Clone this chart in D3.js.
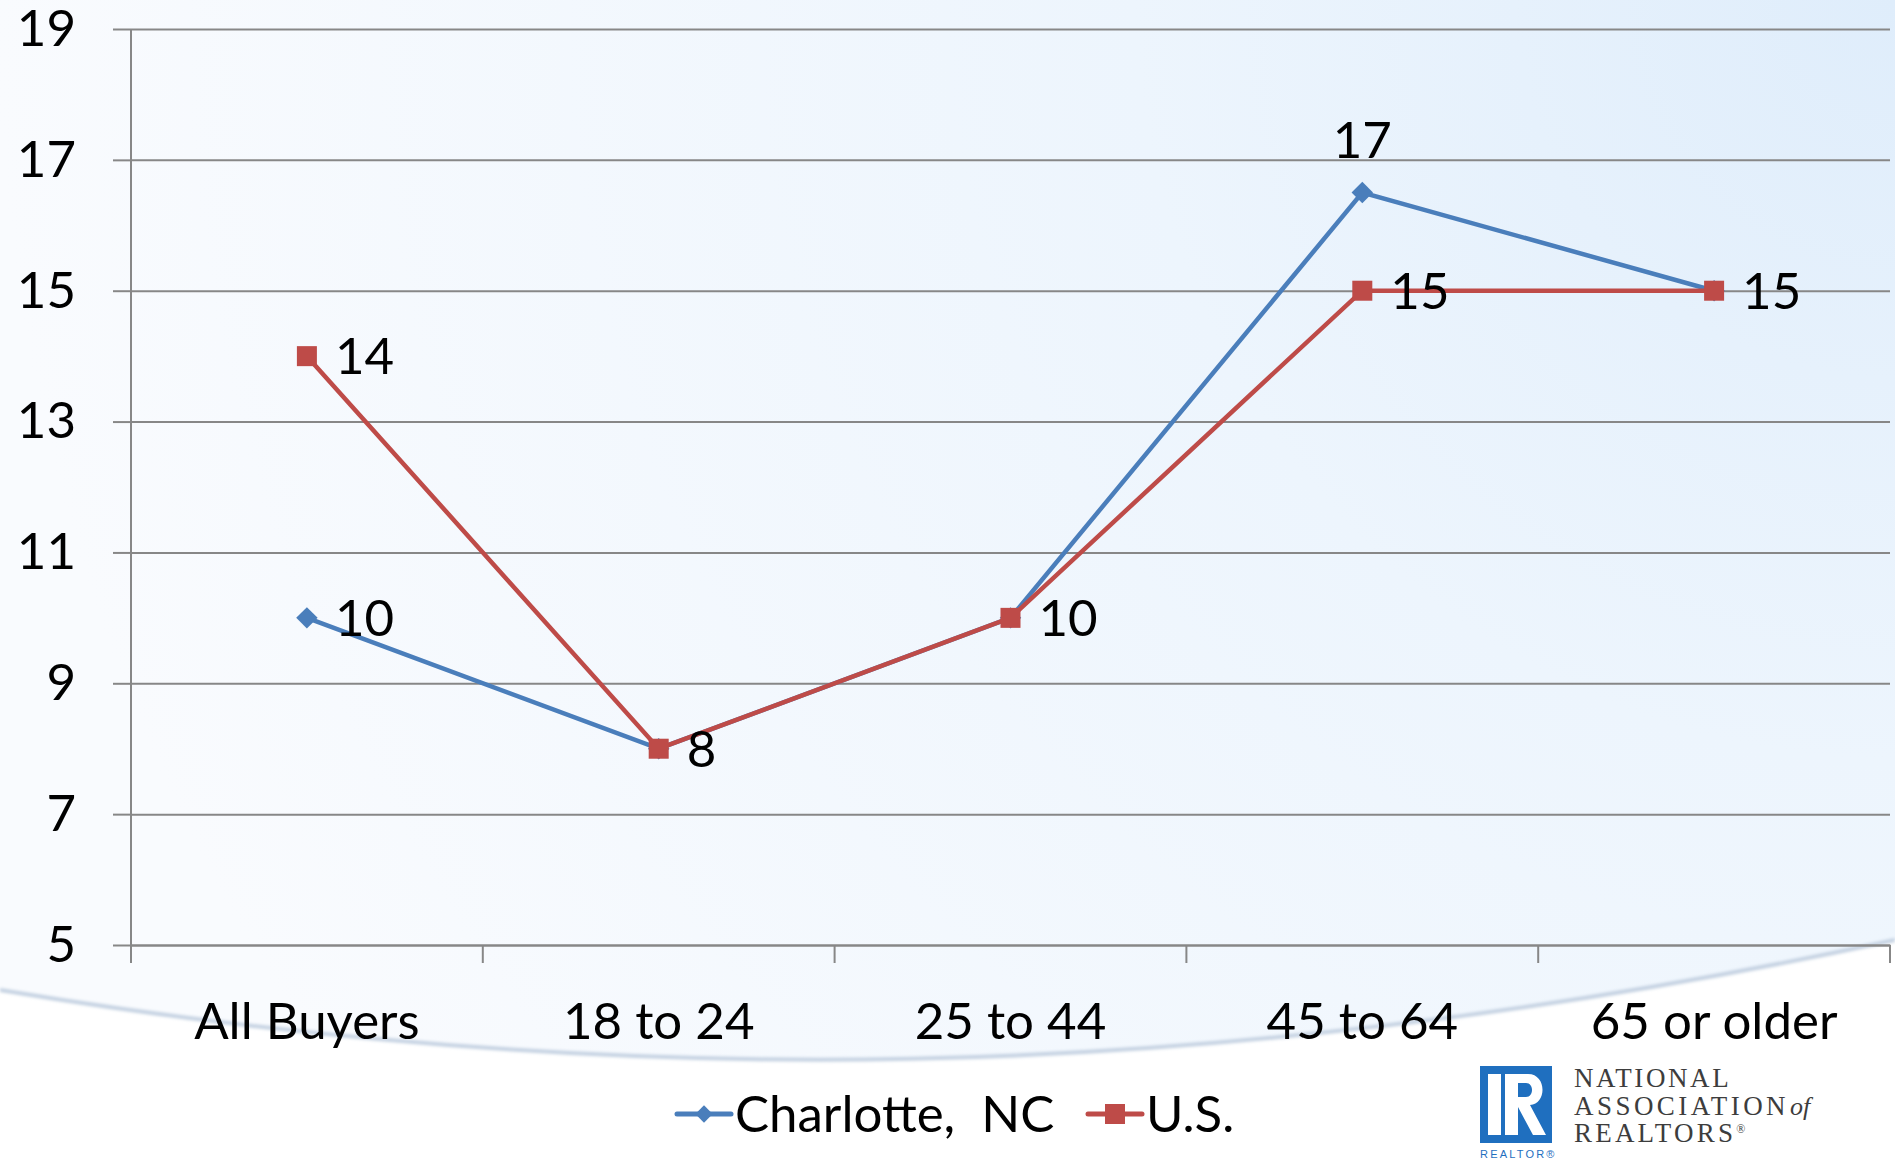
<!DOCTYPE html>
<html>
<head>
<meta charset="utf-8">
<script src="https://cdn.jsdelivr.net/npm/d3@7"></script>
<style>
  body { margin: 0; background: #fff; }
  svg { display: block; }
  text { font-family: Lato, "Noto Sans", sans-serif; fill: #000; }
</style>
</head>
<body>
<svg></svg>
<script>
let categories = ["All Buyers", "18 to 24", "25 to 44", "45 to 64", "65 or older"];
let charlotte = [10, 8, 10, 16.5, 15];
let usValues = [14, 8, 10, 15, 15];
let yTicks = [5, 7, 9, 11, 13, 15, 17, 19];
let seriesNames = ["Charlotte, NC", "U.S."];

let width = 1895;
let height = 1162;
let plotLeft = 131, plotRight = 1890, plotTop = 29, plotBottom = 945;
let fontSize = 51;
let blue = "#4a7ebb", red = "#be4b48", grid = "#878787";

let svg = d3.select("svg").attr("width", width).attr("height", height);

// background
let defs = svg.append("defs");
let grad = defs.append("radialGradient").attr("id", "bg")
  .attr("gradientUnits", "userSpaceOnUse")
  .attr("cx", 1895).attr("cy", 0).attr("r", 1900);
grad.append("stop").attr("offset", "0%").attr("stop-color", "#dfedfb");
grad.append("stop").attr("offset", "40%").attr("stop-color", "#edf5fd");
grad.append("stop").attr("offset", "100%").attr("stop-color", "#f9fbfe");
let blur = defs.append("filter").attr("id", "soft");
blur.append("feGaussianBlur").attr("stdDeviation", 1.5);

svg.append("rect").attr("width", width).attr("height", height).attr("fill", "url(#bg)");
let swoosh = "M0,990 C600,1090 1200,1090 1895,940";
svg.append("path").attr("d", swoosh + " L1895,1162 L0,1162 Z").attr("fill", "#fff");
svg.append("path").attr("d", swoosh).attr("fill", "none")
  .attr("stroke", "#c5d2e2").attr("stroke-width", 4).attr("filter", "url(#soft)");

let x = d3.scaleBand().domain(categories).range([plotLeft, plotRight]);
let y = d3.scaleLinear().domain([5, 19]).range([plotBottom, plotTop]);

// gridlines
svg.append("g")
  .attr("transform", "translate(" + plotLeft + ",0)")
  .call(d3.axisLeft(y).tickValues(yTicks).tickSize(-(plotRight - plotLeft)).tickFormat(""))
  .call(g => g.select(".domain").remove())
  .call(g => g.selectAll("line").attr("stroke", grid).attr("stroke-width", 2));

// y axis
let yAxis = svg.append("g")
  .attr("transform", "translate(" + plotLeft + ",0)")
  .call(d3.axisLeft(y).tickValues(yTicks).tickSize(18).tickPadding(37).tickSizeOuter(0));
yAxis.select(".domain").remove();
yAxis.selectAll("line").attr("stroke", grid).attr("stroke-width", 2);
yAxis.selectAll("text").attr("font-size", fontSize).attr("font-family", null);

svg.append("line")
  .attr("x1", plotLeft).attr("x2", plotLeft).attr("y1", plotTop).attr("y2", plotBottom + 18)
  .attr("stroke", grid).attr("stroke-width", 2);

// x axis
let xAxis = svg.append("g")
  .attr("transform", "translate(0," + plotBottom + ")")
  .call(d3.axisBottom(x).tickSize(0).tickPadding(58));
xAxis.select(".domain").attr("stroke", grid).attr("stroke-width", 2);
xAxis.selectAll("text").attr("font-size", fontSize).attr("font-family", null);

let bounds = categories.map(c => x(c)).concat([plotRight]);
svg.append("g").selectAll("line").data(bounds).enter().append("line")
  .attr("x1", d => d).attr("x2", d => d)
  .attr("y1", plotBottom).attr("y2", plotBottom + 18)
  .attr("stroke", grid).attr("stroke-width", 2);

let cx = (d, i) => x(categories[i]) + x.bandwidth() / 2;
let line = d3.line().x(cx).y(d => y(d));

// Charlotte
svg.append("path").datum(charlotte).attr("d", line)
  .attr("fill", "none").attr("stroke", blue).attr("stroke-width", 4.5);
svg.append("g").selectAll("path").data(charlotte).enter().append("path")
  .attr("d", d3.symbol(d3.symbolSquare, 230))
  .attr("transform", (d, i) => "translate(" + cx(d, i) + "," + y(d) + ") rotate(45)")
  .attr("fill", blue);

// U.S.
svg.append("path").datum(usValues).attr("d", line)
  .attr("fill", "none").attr("stroke", red).attr("stroke-width", 4.5);
svg.append("g").selectAll("rect").data(usValues).enter().append("rect")
  .attr("x", (d, i) => cx(d, i) - 10).attr("y", d => y(d) - 10)
  .attr("width", 20).attr("height", 20)
  .attr("fill", red);

// data labels
let fmt = d => String(Math.round(d));
svg.append("g").selectAll("text").data(usValues).enter().append("text")
  .attr("x", (d, i) => cx(d, i) + 28).attr("y", d => y(d))
  .attr("dy", "0.35em").attr("font-size", fontSize)
  .text(fmt);
svg.append("g").selectAll("text")
  .data(charlotte.map((d, i) => ({ d, i })).filter(o => o.d !== usValues[o.i]))
  .enter().append("text")
  .attr("x", o => o.d > usValues[o.i] ? cx(o.d, o.i) : cx(o.d, o.i) + 28)
  .attr("y", o => o.d > usValues[o.i] ? y(o.d) - 52 : y(o.d))
  .attr("dy", "0.35em").attr("font-size", fontSize)
  .attr("text-anchor", o => o.d > usValues[o.i] ? "middle" : "start")
  .text(o => fmt(o.d));

// legend
let legendY = 1114;
let legend = [
  { name: seriesNames[0], color: blue, x: 677, diamond: true },
  { name: seriesNames[1], color: red, x: 1088, diamond: false }
];
let lg = svg.append("g").selectAll("g").data(legend).enter().append("g")
  .attr("transform", d => "translate(" + d.x + "," + legendY + ")");
lg.append("line").attr("x1", 0).attr("x2", 54).attr("stroke", d => d.color)
  .attr("stroke-width", 5).attr("stroke-linecap", "round");
lg.filter(d => d.diamond).append("path")
  .attr("d", d3.symbol(d3.symbolSquare, 150))
  .attr("transform", "translate(27,0) rotate(45)").attr("fill", d => d.color);
lg.filter(d => !d.diamond).append("rect")
  .attr("x", 17).attr("y", -10).attr("width", 20).attr("height", 20).attr("fill", d => d.color);
lg.append("text").attr("x", 58).attr("dy", "0.35em").attr("font-size", fontSize)
  .attr("xml:space", "preserve")
  .text(d => d.name.replace(", ", ",  "));

// logo
let logo = svg.append("g");
logo.append("rect").attr("x", 1480).attr("y", 1066).attr("width", 72).attr("height", 77).attr("fill", "#1f6fbf");
logo.append("rect").attr("x", 1488).attr("y", 1074).attr("width", 13).attr("height", 61).attr("fill", "#fff");
logo.append("path")
  .attr("d", "M1505,1074 H1528 C1547,1074 1547,1104 1530,1105 L1546,1135 H1533 L1518,1107 V1135 H1505 Z M1518,1083 V1097 H1526 C1534,1097 1534,1083 1526,1083 Z")
  .attr("fill", "#fff").attr("fill-rule", "evenodd");
logo.append("text").attr("x", 1480).attr("y", 1158).attr("font-size", 11)
  .style("letter-spacing", "2.2px").style("font-family", "'Liberation Sans', sans-serif")
  .style("fill", "#1f6fbf").text("REALTOR®");

let narText = logo.append("text").attr("font-size", 27)
  .style("font-family", "'Liberation Serif', serif").style("fill", "#3d3d3d");
narText.append("tspan").attr("x", 1574).attr("y", 1087).style("letter-spacing", "2.6px").text("NATIONAL");
narText.append("tspan").attr("x", 1574).attr("y", 1115).style("letter-spacing", "0.4px")
  .attr("textLength", 212).attr("lengthAdjust", "spacing").text("ASSOCIATION");
narText.append("tspan").attr("x", 1790).attr("y", 1115).attr("font-size", 26)
  .style("font-style", "italic").style("letter-spacing", "0px").text("of");
narText.append("tspan").attr("x", 1574).attr("y", 1142).style("letter-spacing", "3.2px").text("REALTORS");
narText.append("tspan").attr("dy", -9).attr("font-size", 12).style("letter-spacing", "0px").text("®");
</script>
</body>
</html>
